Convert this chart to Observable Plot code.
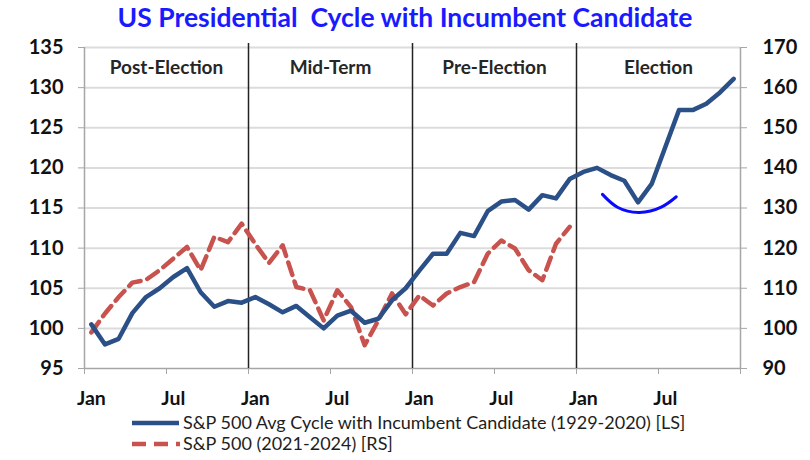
<!DOCTYPE html>
<html>
<head>
<meta charset="utf-8">
<script src="https://cdn.jsdelivr.net/npm/d3@7"></script>
<script src="https://cdn.jsdelivr.net/npm/@observablehq/plot@0.6"></script>
<style>
  body { margin: 0; background: #fff; }
  #wrap { position: relative; width: 810px; height: 460px; font-family: Lato, "Open Sans", sans-serif; }
  #title { position: absolute; left: 0; top: 1px; width: 810px; text-align: center; font-size: 26.5px; font-weight: bold; color: #1a1aff; }
  #chart { position: absolute; left: 0; top: 34px; }
  .leg { position: absolute; left: 132px; font-size: 18px; line-height: 19px; color: #1e1e1e; display: flex; align-items: center; white-space: nowrap; }
  .leg svg { margin-right: 3px; }
</style>
</head>
<body>
<div id="wrap">
  <div id="title">US Presidential&nbsp; Cycle with Incumbent Candidate</div>
  <div id="chart"></div>
  <div class="leg" style="top:413px"><svg width="48" height="10"><line x1="0" y1="5" x2="47" y2="5" stroke="#2a5087" stroke-width="4.5"/></svg>S&amp;P 500 Avg Cycle with Incumbent Candidate (1929-2020) [LS]</div>
  <div class="leg" style="top:434px"><svg width="48" height="10"><line x1="0" y1="5" x2="48" y2="5" stroke="#c8524e" stroke-width="4.5" stroke-dasharray="14,8"/></svg>S&amp;P 500 (2021-2024) [RS]</div>
</div>
<script>
// Monthly values, index 0..47 (4-year cycle)
const avgCycle = [100.5, 98.0, 98.7, 101.9, 103.9, 105.0, 106.4, 107.5, 104.5, 102.7, 103.4, 103.2,
                  103.9, 103.0, 102.0, 102.8, 101.4, 100.0, 101.6, 102.2, 100.7, 101.2, 103.5, 105.0,
                  107.2, 109.3, 109.3, 111.9, 111.5, 114.6, 115.8, 116.0, 114.8, 116.6, 116.2, 118.6,
                  119.5, 120.0, 119.1, 118.4, 115.7, 118.0, 122.6, 127.2, 127.2, 128.0, 129.4, 131.1];
const spx2021 = [99.0, 103.7, 107.8, 111.4, 112.1, 114.5, 117.4, 120.3, 114.5, 122.8, 121.5, 126.1,
                 121.0, 116.3, 120.7, 110.3, 109.5, 102.0, 109.5, 105.3, 95.8, 102.0, 108.7, 103.5,
                 108.2, 105.7, 108.7, 110.3, 111.5, 118.6, 121.9, 119.9, 114.5, 112.0, 121.1, 125.3];
const leftTicks = [95, 100, 105, 110, 115, 120, 125, 130, 135];
const rightTicks = [90, 100, 110, 120, 130, 140, 150, 160, 170];
const monthLabels = ["Jan", "Jul", "Jan", "Jul", "Jan", "Jul", "Jan", "Jul"];
const phases = ["Post-Election", "Mid-Term", "Pre-Election", "Election"];
const yearBreaks = [12, 24, 36];
// hand-drawn arc annotation (month position, left-axis value)
const arcX = [37.9, 39.0, 40.6, 42.2, 43.3];
const arcY = [116.7, 115.1, 114.45, 115.1, 116.4];

const toLeft = v => 95 + (v - 90) / 2;   // right axis (90..170) -> left axis (95..135)

const blue = avgCycle.map((v, i) => ({x: i + 0.5, y: v}));
const red = spx2021.map((v, i) => ({x: i + 0.5, y: toLeft(v)}));
const arc = arcX.map((x, i) => ({x, y: arcY[i]}));

const chart = Plot.plot({
  width: 810,
  height: 378,
  marginLeft: 84,
  marginRight: 70,
  marginTop: 13,
  marginBottom: 44,
  style: {fontFamily: "Lato, 'Open Sans', sans-serif", background: "white"},
  x: {domain: [0, 48], axis: null},
  y: {domain: [95, 135], axis: null},
  marks: [
    Plot.ruleY(leftTicks.slice(1), {stroke: "#dcdcdc", strokeWidth: 2}),
    Plot.ruleX([0, 48], {stroke: "#a6a6a6", strokeWidth: 1.5}),
    Plot.ruleY([95], {stroke: "#a6a6a6", strokeWidth: 1.5}),
    Plot.ruleX(yearBreaks, {y1: 95, y2: 135.5, stroke: "#222", strokeWidth: 1.5}),
    Plot.axisY({ticks: leftTicks, anchor: "left", label: null, tickSize: 6, tickPadding: 15, stroke: "#a6a6a6", fill: "#111", fontSize: 20, fontWeight: "bold"}),
    Plot.axisY({ticks: leftTicks, anchor: "right", label: null, tickSize: 6, tickPadding: 16, stroke: "#a6a6a6", fill: "#111", fontSize: 20, fontWeight: "bold",
      tickFormat: d => rightTicks[leftTicks.indexOf(d)]}),
    Plot.axisX({ticks: d3.range(0, 49, 6), label: null, tickSize: 6, stroke: "#a6a6a6", tickFormat: () => ""}),
    Plot.axisX({ticks: d3.range(0, 48, 6).map(d => d + 0.5), label: null, tickSize: 0, tickPadding: 23, fill: "#111", fontSize: 19.5, fontWeight: "bold",
      tickFormat: (d, i) => monthLabels[i]}),
    Plot.text(phases, {x: (d, i) => i * 12 + 6, y: 132.5, text: d => d, fontSize: 19, fontWeight: "bold", fill: "#262626"}),
    Plot.line(red, {x: "x", y: "y", stroke: "#c8524e", strokeWidth: 4.5, strokeDasharray: "13,7"}),
    Plot.line(blue, {x: "x", y: "y", stroke: "#2a5087", strokeWidth: 4.5}),
    Plot.line(arc, {x: "x", y: "y", stroke: "#0a0aff", strokeWidth: 3, curve: "natural", strokeLinecap: "round"})
  ]
});
document.getElementById("chart").appendChild(chart);
</script>
</body>
</html>
